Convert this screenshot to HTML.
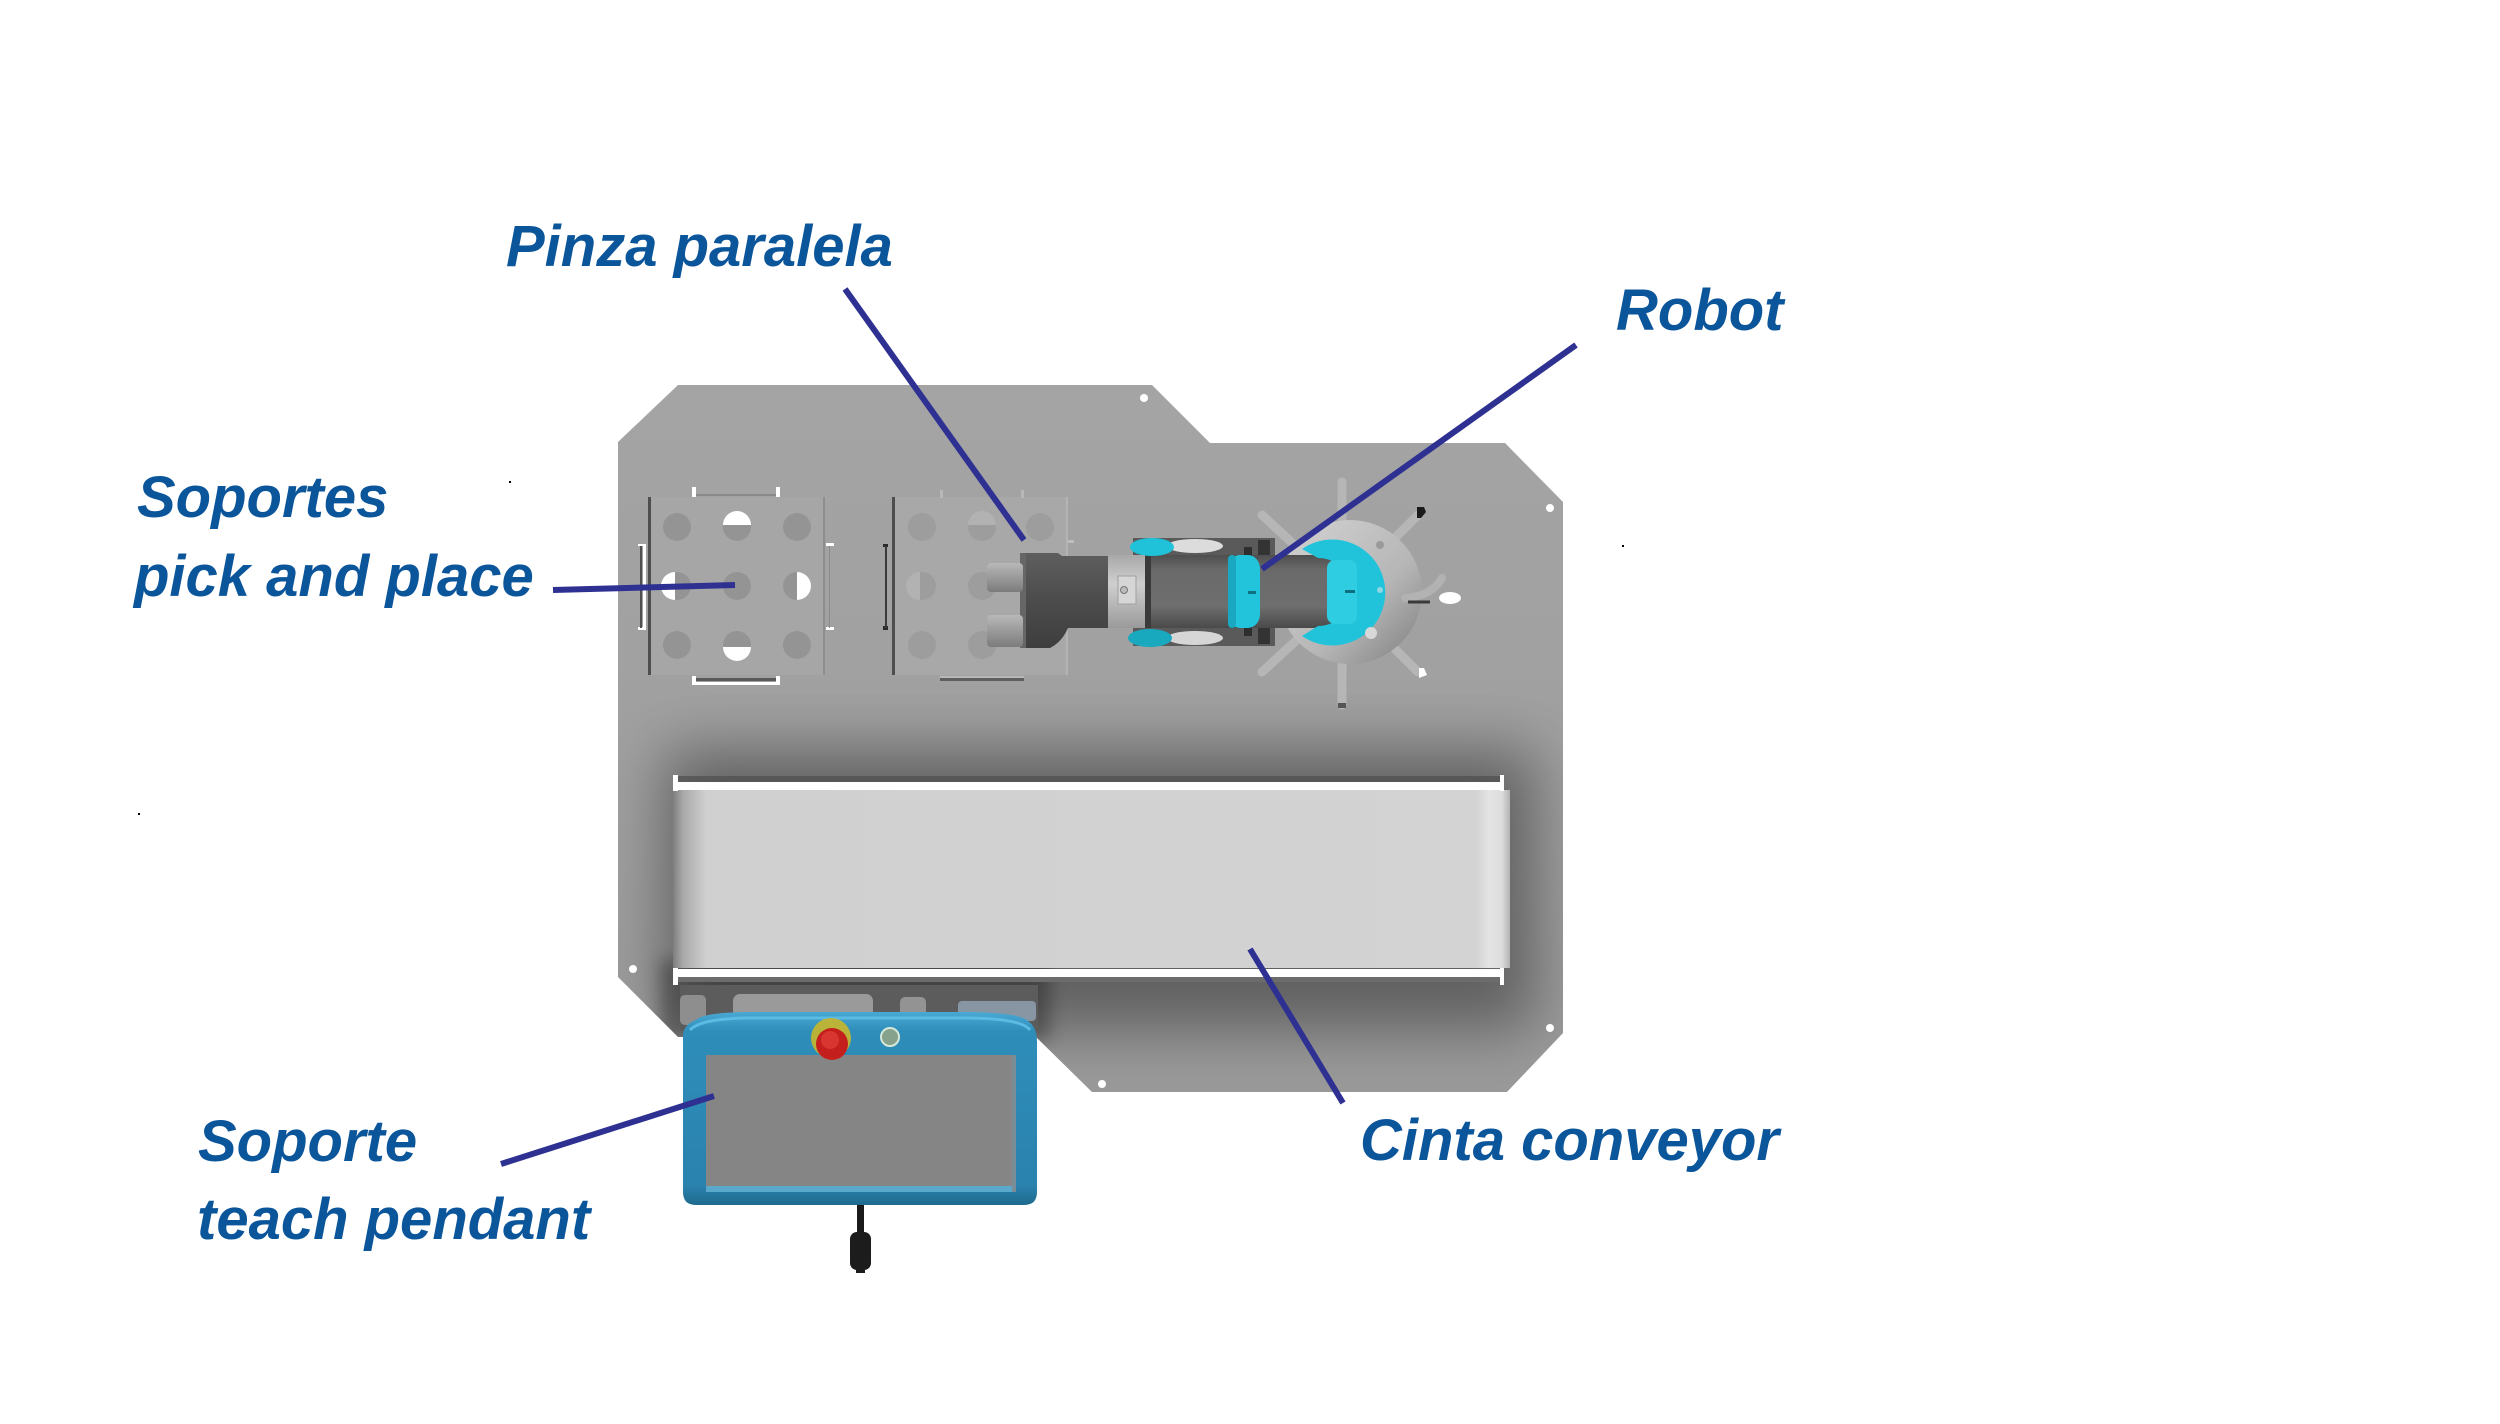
<!DOCTYPE html>
<html>
<head>
<meta charset="utf-8">
<style>
  html, body { margin: 0; padding: 0; background: #ffffff; }
  body { width: 2500px; height: 1424px; overflow: hidden; }
  svg { display: block; }
  .lbl { font-family: "Liberation Sans", Arial, sans-serif; font-weight: bold; font-style: italic; font-size: 58px; fill: #0b559b; }
  .ldr { stroke: #2e3192; stroke-width: 6; fill: none; }
</style>
</head>
<body>
<svg width="2500" height="1424" viewBox="0 0 2500 1424" xmlns="http://www.w3.org/2000/svg">
  <defs>
    <clipPath id="plateClip">
      <path d="M618,442 L678,385 L1152,385 L1210,443 L1505,443 L1563,502 L1563,1033 L1507,1092 L1092,1092 L1036,1037 L678,1037 L618,977 Z"/>
    </clipPath>
    <linearGradient id="plateGrad" x1="0" y1="0" x2="0" y2="1">
      <stop offset="0" stop-color="#a4a4a4"/>
      <stop offset="0.5" stop-color="#a0a0a0"/>
      <stop offset="1" stop-color="#9a9a9a"/>
    </linearGradient>
    <filter id="blur30" x="-50%" y="-50%" width="200%" height="200%">
      <feGaussianBlur stdDeviation="30"/>
    </filter>
    <filter id="blur8" x="-50%" y="-50%" width="200%" height="200%">
      <feGaussianBlur stdDeviation="8"/>
    </filter>
    <linearGradient id="beltGrad" x1="0" y1="0" x2="1" y2="0">
      <stop offset="0" stop-color="#7e7e7e"/>
      <stop offset="0.012" stop-color="#a9a9a9"/>
      <stop offset="0.04" stop-color="#d0d0d0"/>
      <stop offset="0.96" stop-color="#d3d3d3"/>
      <stop offset="0.975" stop-color="#e4e4e4"/>
      <stop offset="0.99" stop-color="#dcdcdc"/>
      <stop offset="1" stop-color="#b4b4b4"/>
    </linearGradient>
    <linearGradient id="tubeGrad" x1="0" y1="0" x2="0" y2="1">
      <stop offset="0" stop-color="#4e4e4e"/>
      <stop offset="0.2" stop-color="#6a6a6a"/>
      <stop offset="0.7" stop-color="#6e6e6e"/>
      <stop offset="1" stop-color="#4a4a4a"/>
    </linearGradient>
    <linearGradient id="gripGrad" x1="0" y1="0" x2="0" y2="1">
      <stop offset="0" stop-color="#5e5e5e"/>
      <stop offset="0.5" stop-color="#4c4c4c"/>
      <stop offset="1" stop-color="#3e3e3e"/>
    </linearGradient>
    <linearGradient id="couplGrad" x1="0" y1="0" x2="0" y2="1">
      <stop offset="0" stop-color="#a8a8a8"/>
      <stop offset="0.4" stop-color="#cfcfcf"/>
      <stop offset="1" stop-color="#9a9a9a"/>
    </linearGradient>
    <linearGradient id="fingerGrad" x1="0" y1="0" x2="0" y2="1">
      <stop offset="0" stop-color="#b8b8b8"/>
      <stop offset="1" stop-color="#7c7c7c"/>
    </linearGradient>
    <linearGradient id="diskGrad" x1="0" y1="0" x2="1" y2="1">
      <stop offset="0" stop-color="#d4d4d4"/>
      <stop offset="0.6" stop-color="#b6b6b6"/>
      <stop offset="1" stop-color="#7e7e7e"/>
    </linearGradient>
    <linearGradient id="pendGrad" x1="0" y1="0" x2="0" y2="1">
      <stop offset="0" stop-color="#4aa9d4"/>
      <stop offset="0.1" stop-color="#2f8dba"/>
      <stop offset="0.9" stop-color="#2a82ad"/>
      <stop offset="1" stop-color="#1f6a8e"/>
    </linearGradient>
  </defs>

  <rect x="0" y="0" width="2500" height="1424" fill="#ffffff"/>

  <!-- base plate -->
  <path d="M618,442 L678,385 L1152,385 L1210,443 L1505,443 L1563,502 L1563,1033 L1507,1092 L1092,1092 L1036,1037 L678,1037 L618,977 Z" fill="url(#plateGrad)"/>

  <!-- shadow around conveyor -->
  <g clip-path="url(#plateClip)">
    <rect x="665" y="750" width="870" height="280" fill="#000" opacity="0.38" filter="url(#blur30)"/>
    <rect x="660" y="960" width="390" height="80" fill="#000" opacity="0.3" filter="url(#blur8)"/>
  </g>

  <!-- mounting holes -->
  <g fill="#ffffff">
    <circle cx="1144" cy="398" r="4"/>
    <circle cx="1550" cy="508" r="4"/>
    <circle cx="1550" cy="1028" r="4"/>
    <circle cx="633" cy="969" r="4"/>
    <circle cx="1102" cy="1084" r="4"/>
  </g>

  <!-- Support 1 -->
  <g>
    <rect x="649" y="497" width="176" height="178" fill="#a6a6a6"/>
    <rect x="648" y="497" width="3" height="178" fill="#4e4e4e"/>
    <rect x="823" y="497" width="2" height="178" fill="#8e8e8e"/>
    <g fill="#949494">
      <circle cx="677" cy="527" r="14"/><circle cx="737" cy="527" r="14"/><circle cx="797" cy="527" r="14"/>
      <circle cx="677" cy="586" r="14"/><circle cx="737" cy="586" r="14"/><circle cx="797" cy="586" r="14"/>
      <circle cx="677" cy="645" r="14"/><circle cx="737" cy="645" r="14"/><circle cx="797" cy="645" r="14"/>
    </g>
    <g fill="#ffffff">
      <path d="M723,525 A14,14 0 0,1 751,525 Z"/>
      <path d="M723,647 A14,14 0 0,0 751,647 Z"/>
      <path d="M675,572 A14,14 0 0,0 675,600 Z"/>
      <path d="M797,572 A14,14 0 0,1 797,600 Z"/>
    </g>
    <g fill="#ffffff">
      <rect x="692" y="487" width="4" height="10"/>
      <rect x="776" y="487" width="4" height="10"/>
      <rect x="692" y="676" width="4" height="9"/>
      <rect x="776" y="676" width="4" height="9"/>
      <rect x="694" y="682" width="84" height="3"/>
      <rect x="638" y="544" width="8" height="2"/>
      <rect x="638" y="627" width="8" height="3"/>
      <rect x="643" y="544" width="3" height="86"/>
      <rect x="826" y="543" width="8" height="3"/>
      <rect x="826" y="627" width="8" height="3"/>
    </g>
    <rect x="640" y="546" width="2" height="82" fill="#505050"/>
    <rect x="696" y="494" width="80" height="2" fill="#8a8a8a"/>
    <rect x="696" y="678" width="80" height="3" fill="#5a5a5a"/>
    <rect x="829" y="546" width="1" height="82" fill="#8a8a8a"/>
  </g>

  <!-- Support 2 -->
  <g>
    <rect x="893" y="497" width="175" height="178" fill="#a8a8a8"/>
    <rect x="892" y="497" width="3" height="178" fill="#4e4e4e"/>
    <rect x="1066" y="497" width="2" height="178" fill="#b4b4b4"/>
    <g fill="#9d9d9d">
      <circle cx="922" cy="527" r="14"/><circle cx="982" cy="527" r="14"/><circle cx="1040" cy="527" r="14"/>
      <circle cx="922" cy="586" r="14"/><circle cx="982" cy="586" r="14"/>
      <circle cx="922" cy="645" r="14"/><circle cx="982" cy="645" r="14"/>
    </g>
    <path d="M968,525 A14,14 0 0,1 996,525 Z" fill="#b2b2b2"/>
    <path d="M920,572 A14,14 0 0,0 920,600 Z" fill="#b2b2b2"/>
    <rect x="883" y="544" width="5" height="3" fill="#2a2a2a"/>
    <rect x="883" y="626" width="5" height="4" fill="#2a2a2a"/>
    <rect x="885" y="546" width="2" height="82" fill="#3a3a3a"/>
    <rect x="940" y="490" width="3" height="8" fill="#b8b8b8"/>
    <rect x="1021" y="490" width="3" height="8" fill="#b8b8b8"/>
    <rect x="940" y="678" width="84" height="3" fill="#5e5e5e"/>
    <rect x="940" y="676" width="84" height="2" fill="#b8b8b8"/>
    <rect x="1068" y="540" width="6" height="3" fill="#bdbdbd"/>
  </g>

  <!-- Robot base spokes -->
  <g stroke="#b6b6b6" stroke-width="9" stroke-linecap="round" fill="none">
    <line x1="1342" y1="482" x2="1342" y2="530"/>
    <line x1="1342" y1="655" x2="1342" y2="705"/>
    <line x1="1262" y1="515" x2="1300" y2="550"/>
    <line x1="1262" y1="672" x2="1300" y2="637"/>
    <line x1="1418" y1="515" x2="1388" y2="545"/>
    <line x1="1418" y1="672" x2="1388" y2="642"/>
  </g>
  <rect x="1338" y="703" width="8" height="5" fill="#555"/>
  <path d="M1417,507 L1424,507 L1426,512 L1421,518 L1417,518 Z" fill="#1a1a1a"/>
  <path d="M1419,668 L1424,668 L1427,675 L1419,678 Z" fill="#ffffff"/>

  <!-- base disk -->
  <circle cx="1350" cy="592" r="72" fill="url(#diskGrad)"/>
  <path d="M1405,598 Q1432,596 1442,578" stroke="#b2b2b2" stroke-width="8" fill="none" stroke-linecap="round"/>
  <path d="M1408,602 L1430,602" stroke="#3a3a3a" stroke-width="3"/>
  <ellipse cx="1450" cy="598" rx="11" ry="6" fill="#ffffff"/>

  <!-- arm frame -->
  <rect x="1133" y="538" width="142" height="19" fill="#5a5a5a"/>
  <rect x="1133" y="627" width="142" height="19" fill="#5a5a5a"/>
  <ellipse cx="1195" cy="546" rx="28" ry="7" fill="#dcdcdc"/>
  <ellipse cx="1195" cy="638" rx="28" ry="7" fill="#d6d6d6"/>
  <rect x="1258" y="540" width="12" height="16" fill="#333"/>
  <rect x="1258" y="628" width="12" height="16" fill="#333"/>

  <!-- main tube -->
  <rect x="1145" y="555" width="200" height="73" fill="url(#tubeGrad)"/>
  <rect x="1145" y="555" width="6" height="73" fill="#3a3a3a"/>
  <rect x="1244" y="547" width="8" height="10" fill="#2e2e2e"/>
  <rect x="1244" y="626" width="8" height="10" fill="#2e2e2e"/>

  <!-- cyan bits -->
  <ellipse cx="1152" cy="547" rx="22" ry="9" fill="#1fc2d8"/>
  <ellipse cx="1150" cy="638" rx="22" ry="9" fill="#18a9be"/>
  <rect x="1228" y="555" width="32" height="73" rx="12" ry="14" fill="#22c4dc"/>
  <rect x="1228" y="555" width="8" height="73" rx="4" fill="#19a8c0"/>
  <rect x="1248" y="591" width="8" height="3" fill="#0e6f80"/>
  <!-- crescent (thick) -->
  <path d="M1302,549 A53,53 0 1,1 1302,636 L1318,626 A34,34 0 1,0 1318,558 Z" fill="#20c3da"/>
  <rect x="1327" y="560" width="30" height="64" rx="8" fill="#2fcde2"/>
  <rect x="1345" y="590" width="10" height="3" fill="#0e6f80"/>
  <circle cx="1380" cy="590" r="3" fill="#8fd7e2"/>
  <circle cx="1371" cy="633" r="6" fill="#d8d8d8"/>
  <circle cx="1380" cy="545" r="4" fill="#9a9a9a"/>

  <!-- coupling -->
  <rect x="1108" y="555" width="37" height="73" fill="url(#couplGrad)"/>
  <rect x="1118" y="576" width="18" height="28" fill="#d6d6d6" stroke="#a0a0a0" stroke-width="1"/>
  <circle cx="1124" cy="590" r="3.5" fill="#bbbbbb" stroke="#777" stroke-width="1"/>

  <!-- gripper body -->
  <path d="M1020,553 L1058,553 L1062,556 L1108,556 L1108,628 L1068,628 Q1062,642 1050,648 L1020,648 Z" fill="url(#gripGrad)"/>
  <rect x="1020" y="553" width="6" height="95" fill="#666"/>
  <rect x="987" y="563" width="36" height="29" rx="4" fill="url(#fingerGrad)"/>
  <rect x="987" y="615" width="36" height="32" rx="4" fill="url(#fingerGrad)"/>

  <!-- Conveyor -->
  <rect x="676" y="776" width="828" height="6" fill="#4e4e4e" opacity="0.7"/>
  <rect x="673" y="790" width="837" height="178" fill="url(#beltGrad)"/>
  <rect x="676" y="782" width="827" height="8" fill="#ffffff"/>
  <rect x="673" y="775" width="5" height="16" fill="#ffffff"/>
  <rect x="1500" y="775" width="4" height="16" fill="#ffffff"/>
  <rect x="676" y="969" width="827" height="8" fill="#ffffff"/>
  <rect x="673" y="968" width="5" height="17" fill="#ffffff"/>
  <rect x="1500" y="968" width="4" height="17" fill="#ffffff"/>
  <rect x="678" y="977" width="822" height="5" fill="#6c6c6c"/>

  <!-- Teach pendant bracket -->
  <rect x="680" y="985" width="358" height="45" fill="#5c5c5c"/>
  <rect x="680" y="995" width="26" height="30" rx="5" fill="#8e8e8e"/>
  <rect x="733" y="994" width="140" height="24" rx="7" fill="#9a9a9a"/>
  <rect x="900" y="997" width="26" height="20" rx="5" fill="#939393"/>
  <rect x="958" y="1001" width="78" height="20" rx="4" fill="#8896a4"/>

  <!-- pendant body -->
  <path d="M696,1020 Q702,1013 745,1012 L972,1012 Q1020,1013 1028,1021 Q1037,1027 1037,1042 L1037,1192 Q1037,1205 1024,1205 L696,1205 Q683,1205 683,1192 L683,1036 Q683,1025 696,1020 Z" fill="url(#pendGrad)"/>
  <path d="M690,1030 Q700,1019 745,1018 L972,1018 Q1022,1019 1030,1030" stroke="#5bbbe2" stroke-width="3" fill="none"/>
  <rect x="706" y="1055" width="310" height="137" fill="#858585"/>
  <rect x="706" y="1186" width="310" height="6" fill="#5aa8cc"/>
  <rect x="1012" y="1055" width="4" height="137" fill="#7a8c96"/>
  <circle cx="831" cy="1038" r="20" fill="#c9b62a" opacity="0.9"/>
  <circle cx="832" cy="1044" r="16" fill="#c41f1c"/>
  <circle cx="830" cy="1040" r="9" fill="#d83430"/>
  <circle cx="890" cy="1037" r="9" fill="#86a28c" stroke="#d4e8d8" stroke-width="2"/>
  <rect x="857" y="1205" width="7" height="32" fill="#1a1a1a"/>
  <rect x="850" y="1232" width="21" height="38" rx="7" fill="#1c1c1c"/>
  <rect x="856" y="1266" width="9" height="7" fill="#1c1c1c"/>

  <!-- small stray dots -->
  <rect x="509" y="481" width="2" height="2" fill="#000"/>
  <rect x="1622" y="545" width="2" height="2" fill="#000"/>
  <rect x="138" y="813" width="2" height="2" fill="#000"/>

  <!-- Leader lines -->
  <line class="ldr" x1="845" y1="289" x2="1024" y2="540"/>
  <line class="ldr" x1="1576" y1="345" x2="1262" y2="569"/>
  <line class="ldr" x1="553" y1="590" x2="735" y2="585"/>
  <line class="ldr" x1="1250" y1="949" x2="1343" y2="1103"/>
  <line class="ldr" x1="501" y1="1164" x2="714" y2="1096"/>

  <!-- Labels -->
  <text class="lbl" x="506" y="266">Pinza paralela</text>
  <text class="lbl" x="1616" y="330">Robot</text>
  <text class="lbl" x="137" y="517">Soportes</text>
  <text class="lbl" x="134" y="596">pick and place</text>
  <text class="lbl" x="198" y="1161">Soporte</text>
  <text class="lbl" x="197" y="1239">teach pendant</text>
  <text class="lbl" x="1360" y="1160">Cinta conveyor</text>
</svg>
</body>
</html>
